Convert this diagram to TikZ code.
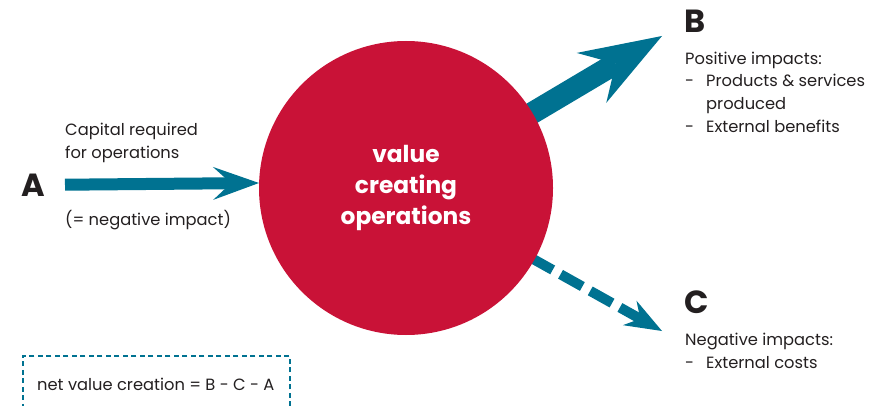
\documentclass[tikz,border=0pt]{standalone}
\usepackage{fontspec}
\setmainfont{Poppins}
\usetikzlibrary{arrows.meta,backgrounds}
\definecolor{opred}{RGB}{201,18,55}
\definecolor{tealarrow}{RGB}{0,114,145}
\definecolor{txt}{RGB}{35,31,32}
\begin{document}
\begin{tikzpicture}[x=1pt,y=-1pt,
  body/.style={font=\fontsize{16.3}{22.7}\selectfont, text=txt, align=left, inner sep=0pt},
  letter/.style={font=\fontsize{32}{32}\selectfont\bfseries, text=txt, inner sep=0pt},
  opcircle/.style={circle, fill=opred, minimum size=294pt, inner sep=0pt,
     text=white, align=center, font=\fontsize{23.3}{31}\selectfont\bfseries},
  flow/.style={draw=tealarrow}
]
\useasboundingbox (0,0) rectangle (886,406);

% central circle
\node[opcircle] (op) at (406,188) {value\\creating\\operations};

% letters
\node[letter] (A) at (33,185) {A};
\node[letter, anchor=west] (B) at (684,21) {B};
\node[letter, anchor=west] (C) at (684,302) {C};

% texts
\node[body, anchor=south west] (capital) at (65,162.5) {Capital required\\for operations};
\node[body, anchor=north west] (neg) at (65,210) {(= negative impact)};
\node[body, anchor=north west] (Btxt) at (685,51.5) {Positive impacts:\\
  \makebox[21pt][l]{-}Products \& services\\
  \hspace*{21pt}produced\\
  \makebox[21pt][l]{-}External benefits};
\node[body, anchor=north west] (Ctxt) at (685,333) {Negative impacts:\\
  \makebox[21pt][l]{-}External costs};

% arrow end points
\coordinate (aend) at (259,183);
\coordinate (bend) at (662,36);
\coordinate (cend) at (662,331);

\begin{scope}[on background layer]
  \draw[flow, line width=12pt, shorten <=32pt,
     -{Stealth[length=46pt,width=33pt,inset=18pt,line width=0pt]}]
     (A.center) -- (aend);
  \draw[flow, line width=22pt,
     -{Stealth[length=82pt,width=58pt,inset=28pt,line width=0pt]}]
     (op.center) -- (bend);
  \draw[flow, line width=10pt, dash pattern=on 25pt off 9pt, dash phase=27pt,
     -{Stealth[length=37pt,width=28pt,inset=12pt,line width=0pt]}]
     (op.center) -- (cend);
\end{scope}

% net value box
\node[draw=tealarrow, dash pattern=on 5pt off 3.5pt, line width=1.5pt,
      minimum width=267pt, minimum height=64pt, anchor=north west,
      inner sep=0pt] (netbox) at (22,355) {};
\node[body, anchor=west] (nettxt) at (37,384) {net value creation = B - C - A};
\end{tikzpicture}
\end{document}
